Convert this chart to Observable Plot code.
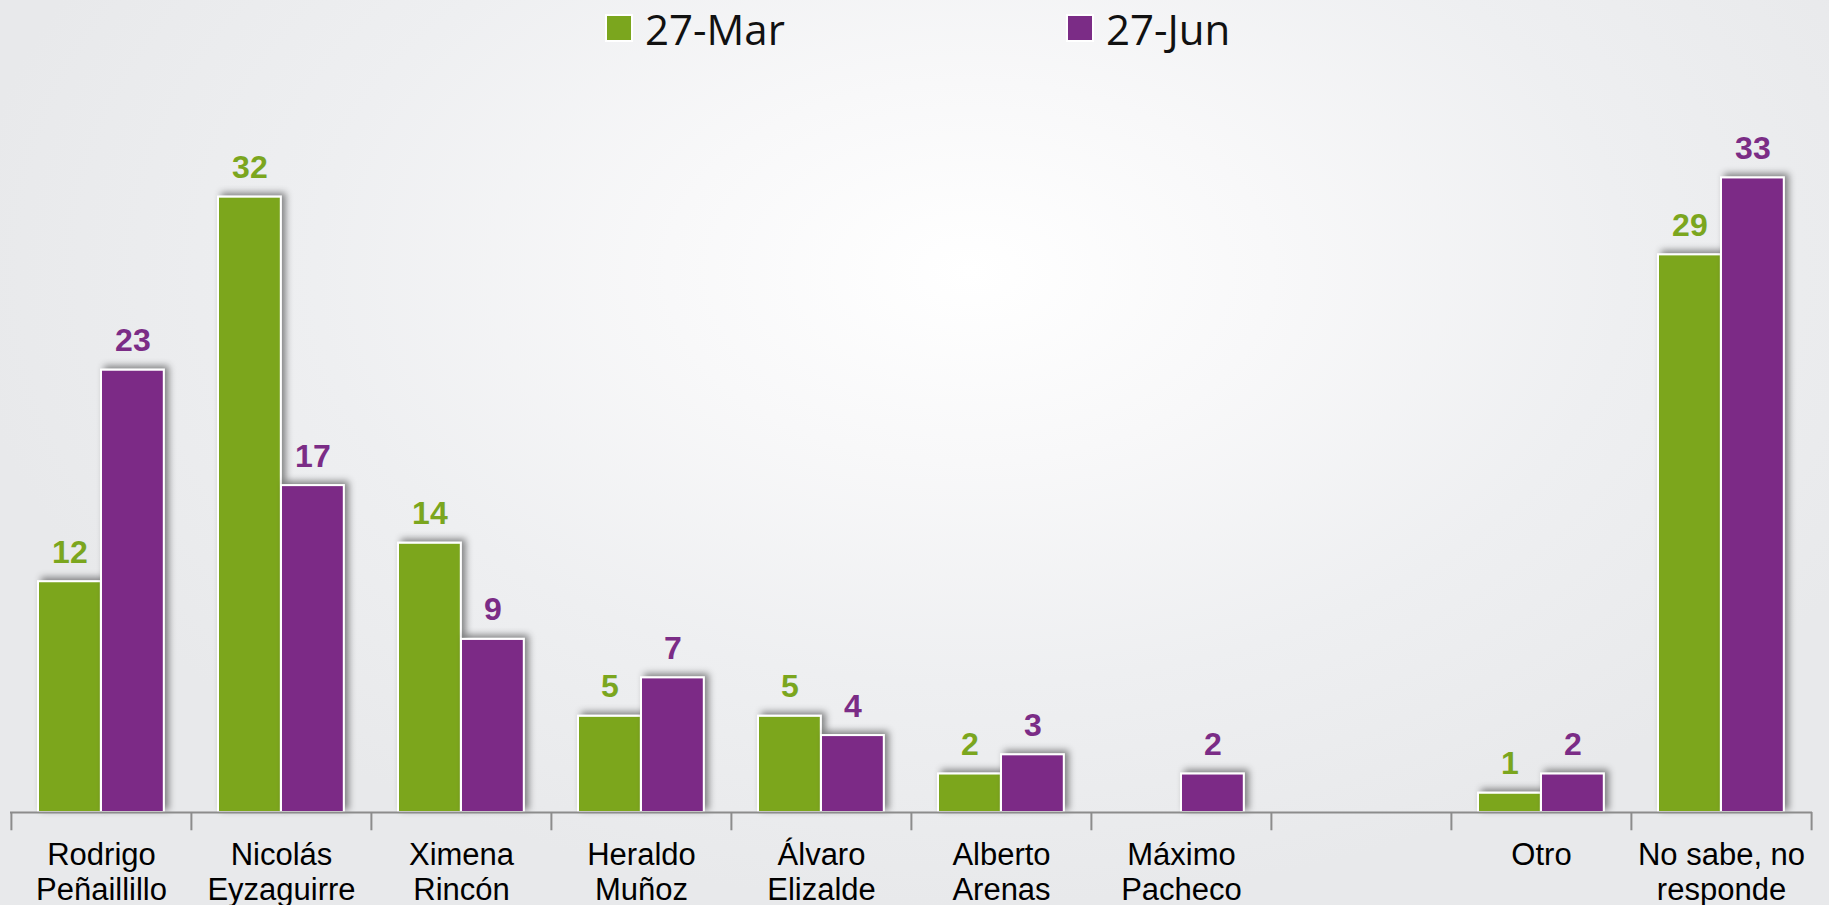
<!DOCTYPE html>
<html>
<head>
<meta charset="utf-8">
<script src="https://cdn.jsdelivr.net/npm/d3@7"></script>
<script src="https://cdn.jsdelivr.net/npm/@observablehq/plot@0.6"></script>
<style>
  html, body { margin: 0; padding: 0; }
  body {
    width: 1829px; height: 905px; overflow: hidden; position: relative;
    background-color: #e9eaec;
    background-image: radial-gradient(ellipse 55% 70% at 53% 30%, #ffffff 0%, #f8f8f9 30%, #eeeff1 65%, #e8e9eb 100%);
    font-family: "Liberation Sans", Arial, sans-serif;
  }
  #chart { position: absolute; top: 0; left: 0; }
  #legend { position: absolute; top: 0; left: 0; width: 1829px; height: 60px; }
  .item { position: absolute; top: 0px; display: flex; align-items: flex-start;
          font-family: "Open Sans", sans-serif; font-size: 42px; line-height: normal; color: #111; }
  .sw { width: 24px; height: 24px; border: 2px solid #fff; margin-right: 12px; margin-top: 14px; }
</style>
</head>
<body>
<div id="chart"></div>
<div id="legend"></div>
<script>
const categories = ["Rodrigo\nPeñaillillo", "Nicolás\nEyzaguirre", "Ximena\nRincón", "Heraldo\nMuñoz",
  "Álvaro\nElizalde", "Alberto\nArenas", "Máximo\nPacheco", " ", "Otro", "No sabe, no\nresponde"];
const seriesNames = ["27-Mar", "27-Jun"];
const mar = [12, 32, 14, 5, 5, 2, null, null, 1, 29];
const jun = [23, 17, 9, 7, 4, 3, 2, null, 2, 33];
const colors = ["#7ba61e", "#7b2c86"];

const W = 1829, H = 905, mL = 10, mR = 17, mT = 139, mB = 93;
const bw = (W - mL - mR) / categories.length;
const rows = categories.map((c, i) => ({cat: c, mar: mar[i], jun: jun[i]}));
const marRows = rows.filter(d => d.mar != null);
const junRows = rows.filter(d => d.jun != null);
const axisColor = "#8c8c8c";

const plot = Plot.plot({
  width: W, height: H,
  marginLeft: mL, marginRight: mR, marginTop: mT, marginBottom: mB,
  style: {background: "transparent", overflow: "visible", fontFamily: "'Liberation Sans', Arial, sans-serif"},
  x: {type: "band", domain: categories, padding: 0, axis: null},
  y: {domain: [0, 35], axis: null},
  marks: [
    Plot.barY(marRows, {x: "cat", y: "mar", fill: colors[0], stroke: "#fff", strokeWidth: 2,
      insetLeft: 27, insetRight: bw - 90}),
    Plot.barY(junRows, {x: "cat", y: "jun", fill: colors[1], stroke: "#fff", strokeWidth: 2,
      insetLeft: 90, insetRight: bw - 153}),
    Plot.text(marRows, {x: "cat", y: "mar", text: d => String(d.mar), dx: (27 + 90) / 2 - bw / 2, dy: -19,
      lineAnchor: "bottom", fontSize: 32, fontWeight: "bold", fill: colors[0]}),
    Plot.text(junRows, {x: "cat", y: "jun", text: d => String(d.jun), dx: (90 + 153) / 2 - bw / 2, dy: -19,
      lineAnchor: "bottom", fontSize: 32, fontWeight: "bold", fill: colors[1]}),
    Plot.ruleY([0], {stroke: axisColor, strokeWidth: 2}),
    Plot.ruleX(categories, {x: d => d, y1: 0, y2: -0.95, dx: -bw / 2, stroke: axisColor, strokeWidth: 2}),
    Plot.ruleX([categories[categories.length - 1]], {x: d => d, y1: 0, y2: -0.95, dx: bw / 2, stroke: axisColor, strokeWidth: 2}),
    Plot.text(categories, {x: d => d, y: 0, text: d => d, lineAnchor: "top", dy: 28,
      fontSize: 31, lineHeight: 1.13, fill: "#000"})
  ]
});

const svg = d3.select(plot);
svg.insert("defs", ":first-child").html(
  '<filter id="sh" x="-20%" y="-20%" width="140%" height="140%">' +
  '<feDropShadow dx="4" dy="-3" stdDeviation="3.5" flood-color="#000" flood-opacity="0.45"/></filter>');
svg.selectAll("g[aria-label='bar']").attr("filter", "url(#sh)");
document.getElementById("chart").appendChild(plot);

const legend = d3.select("#legend");
const legendLeft = [605, 1066];
seriesNames.forEach((name, i) => {
  const it = legend.append("div").attr("class", "item").style("left", legendLeft[i] + "px");
  it.append("div").attr("class", "sw").style("background", colors[i]);
  it.append("span").text(name);
});
</script>
</body>
</html>
